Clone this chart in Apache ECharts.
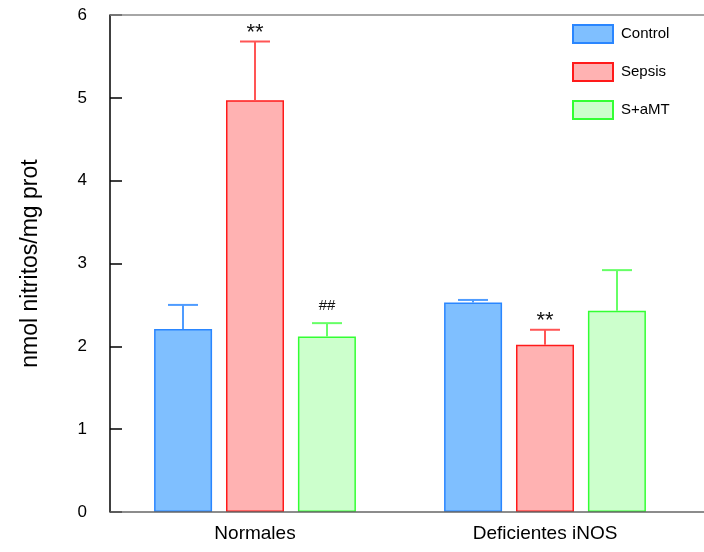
<!DOCTYPE html>
<html>
<head>
<meta charset="utf-8">
<script src="https://cdn.jsdelivr.net/npm/echarts@6/dist/echarts.min.js"></script>
<style>
  html, body { margin: 0; padding: 0; background: #fff; }
  #nitritosChart { width: 704px; height: 552px; }
</style>
</head>
<body>
<div id="nitritosChart"></div>
<script>
// data
var groups = ['Normales', 'Deficientes iNOS'];
var seriesNames = ['Control', 'Sepsis', 'S+aMT'];
var controlMean = [2.21, 2.53];
var controlUpper = [2.50, 2.56];
var sepsisMean = [4.97, 2.02];
var sepsisUpper = [5.68, 2.20];
var samtMean = [2.12, 2.43];
var samtUpper = [2.28, 2.92];
var controlMarks = ['', ''];
var sepsisMarks = ['**', '**'];
var samtMarks = ['##', ''];
var yTicks = [0, 1, 2, 3, 4, 5, 6];

var fills = ['rgba(0,128,255,0.5)', 'rgba(255,0,0,0.3)', 'rgba(0,255,0,0.2)'];
var borders = ['#2a86ff', '#ff1a1a', '#33ff33'];
var errColors = ['#4f9cff', '#ff5555', '#66ff66'];
var barW = 58;
var step = 72; // bar width + gap

var chart = echarts.init(document.getElementById('nitritosChart'), null, { renderer: 'canvas' });

function barSeries(i, means) {
  return {
    name: seriesNames[i],
    type: 'bar',
    barWidth: barW,
    barGap: '24%',
    data: means,
    itemStyle: {
      color: fills[i],
      borderColor: borders[i],
      borderWidth: 1.5
    },
    z: 2
  };
}

function errSeries(i, means, uppers, marks) {
  var d = means.map(function (m, k) { return [k, m, uppers[k]]; });
  var off = (i - 1) * step;
  return {
    type: 'custom',
    silent: true,
    z: 3,
    data: d,
    renderItem: function (params, api) {
      var top = api.coord([api.value(0), api.value(1)]);
      var up = api.coord([api.value(0), api.value(2)]);
      var x = top[0] + off;
      var mark = marks[params.dataIndex];
      var kids = [
        { type: 'line', shape: { x1: x, y1: top[1], x2: x, y2: up[1] },
          style: { stroke: errColors[i], lineWidth: 2 } },
        { type: 'line', shape: { x1: x - 15, y1: up[1], x2: x + 15, y2: up[1] },
          style: { stroke: errColors[i], lineWidth: 2 } }
      ];
      if (mark === '**') {
        kids.push({ type: 'text', x: x, y: up[1] + 2,
          style: { text: mark, fill: '#111', fontSize: 22,
            fontFamily: 'Liberation Sans, Arial, sans-serif',
            align: 'center', verticalAlign: 'bottom' } });
      } else if (mark) {
        kids.push({ type: 'text', x: x, y: up[1] - 10,
          style: { text: mark, fill: '#111', fontSize: 15,
            fontFamily: 'Liberation Sans, Arial, sans-serif',
            align: 'center', verticalAlign: 'bottom' } });
      }
      return { type: 'group', children: kids };
    }
  };
}

chart.setOption({
  animation: false,
  textStyle: { fontFamily: 'Liberation Sans, Arial, sans-serif', color: '#000' },
  grid: { left: 110, right: 14, top: 15, bottom: 40 },
  legend: {
    data: seriesNames,
    orient: 'vertical',
    left: 572,
    top: 24,
    padding: 0,
    icon: 'rect',
    itemWidth: 40,
    itemHeight: 18,
    itemGap: 18,
    textStyle: { fontSize: 15, color: '#000', padding: [0, 0, 0, 3] }
  },
  xAxis: {
    type: 'category',
    data: groups,
    axisLine: { show: false },
    axisTick: { show: false },
    axisLabel: { fontSize: 19, color: '#000', margin: 12 }
  },
  yAxis: {
    type: 'value',
    min: yTicks[0],
    max: yTicks[yTicks.length - 1],
    interval: 1,
    name: 'nmol nitritos/mg prot',
    nameLocation: 'middle',
    nameGap: 68,
    nameTextStyle: { fontSize: 23, color: '#000' },
    splitLine: { show: false },
    axisLine: { show: true, lineStyle: { color: '#000', width: 1.5 } },
    axisTick: { show: true, inside: true, length: 12, lineStyle: { color: '#000', width: 1.5 } },
    axisLabel: { fontSize: 17, color: '#000', margin: 23 }
  },
  graphic: [
    { type: 'line', shape: { x1: 110, y1: 15, x2: 704, y2: 15 }, style: { stroke: '#888', lineWidth: 1.5 }, z: 5 },
    { type: 'line', shape: { x1: 110, y1: 512, x2: 704, y2: 512 }, style: { stroke: '#666', lineWidth: 1.5 }, z: 5 }
  ],
  series: [
    barSeries(0, controlMean),
    barSeries(1, sepsisMean),
    barSeries(2, samtMean),
    errSeries(0, controlMean, controlUpper, controlMarks),
    errSeries(1, sepsisMean, sepsisUpper, sepsisMarks),
    errSeries(2, samtMean, samtUpper, samtMarks)
  ]
});

window.addEventListener('resize', function () {
  chart.resize();
});
</script>
</body>
</html>
